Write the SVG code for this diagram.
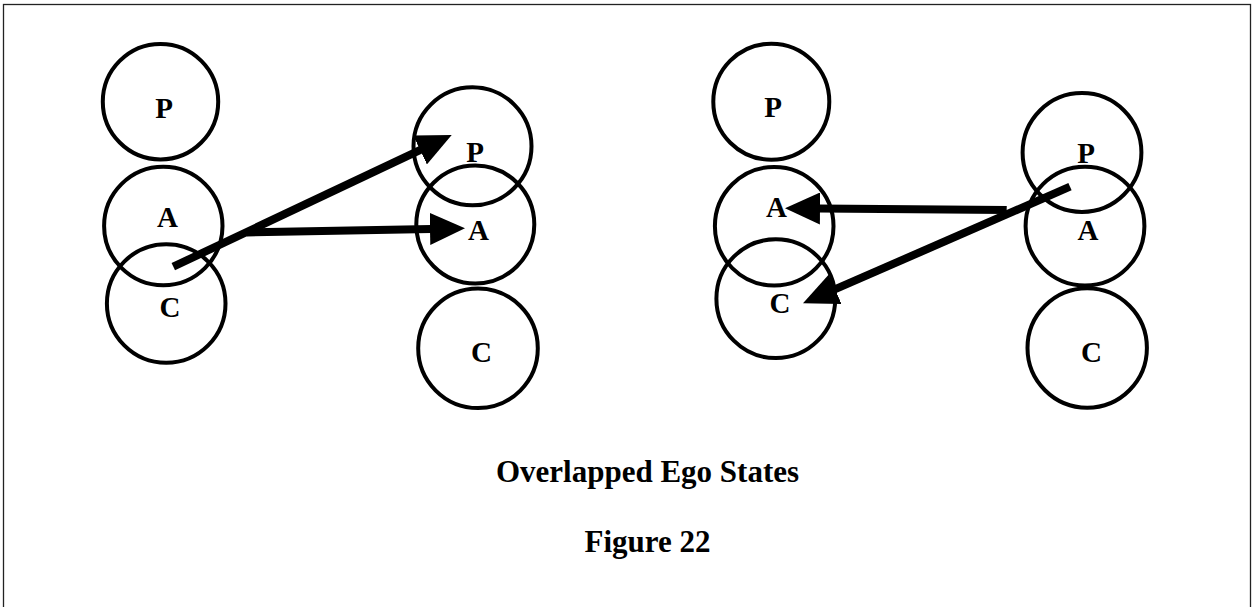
<svg xmlns="http://www.w3.org/2000/svg" width="1252" height="607" viewBox="0 0 1252 607">
<defs>
<style>
.ego circle{fill:none;stroke:#000;stroke-width:4}
.ego text,.cap{font-family:"Liberation Serif","Times New Roman",serif;font-weight:bold;fill:#000;text-anchor:middle}
.ego text{font-size:29px}
.cap{font-size:31px}
.conn line{stroke:#000;stroke-width:8;fill:none;marker-end:url(#head)}
</style>
<marker id="head" markerUnits="userSpaceOnUse" viewBox="0 0 35 32" markerWidth="35" markerHeight="32" refX="1" refY="16" orient="auto">
<path d="M0,0 L35,16 L0,32 Z" fill="#000"/>
</marker>
</defs>
<rect x="0" y="0" width="1252" height="607" fill="#fff"/>
<rect x="3.5" y="4.5" width="1247" height="620" fill="none" stroke="#222" stroke-width="1.3"/>

<g id="left-person-P" class="ego"><circle cx="160.5" cy="101.7" r="57.7"/><text x="164" y="117.5">P</text></g>
<g id="left-person-A" class="ego"><circle cx="163.3" cy="226" r="59.2"/><text x="167.5" y="226.7">A</text></g>
<g id="left-person-C" class="ego"><circle cx="166.2" cy="303.5" r="59.3"/><text x="170" y="316.7">C</text></g>
<g id="left-other-P" class="ego"><circle cx="472.5" cy="146.3" r="59"/><text x="475" y="161.7">P</text></g>
<g id="left-other-A" class="ego"><circle cx="475.3" cy="224.5" r="59"/><text x="478.5" y="240">A</text></g>
<g id="left-other-C" class="ego"><circle cx="478" cy="348.3" r="59.8"/><text x="481.5" y="361.7">C</text></g>

<g id="right-person-P" class="ego"><circle cx="771.3" cy="101.7" r="58"/><text x="773" y="117.3">P</text></g>
<g id="right-person-A" class="ego"><circle cx="774.2" cy="226.2" r="59.3"/><text x="776.5" y="216.7">A</text></g>
<g id="right-person-C" class="ego"><circle cx="775.8" cy="298.7" r="59.4"/><text x="780" y="313.3">C</text></g>
<g id="right-other-P" class="ego"><circle cx="1082" cy="152.5" r="59.4"/><text x="1086" y="162.7">P</text></g>
<g id="right-other-A" class="ego"><circle cx="1085" cy="226.2" r="59.4"/><text x="1088" y="240">A</text></g>
<g id="right-other-C" class="ego"><circle cx="1087.2" cy="348" r="59.7"/><text x="1091.5" y="361.7">C</text></g>

<g id="connectors" class="conn">
<line x1="173.3" y1="266.7" x2="420.97" y2="149.54"/>
<line x1="246.7" y1="232.5" x2="431" y2="228.95"/>
<line x1="1006.7" y1="210" x2="819" y2="208.56"/>
<line x1="1070" y1="186.7" x2="834.16" y2="289.69"/>
</g>

<text class="cap" x="647.5" y="482">Overlapped Ego States</text>
<text class="cap" x="647.5" y="552">Figure 22</text>
</svg>
